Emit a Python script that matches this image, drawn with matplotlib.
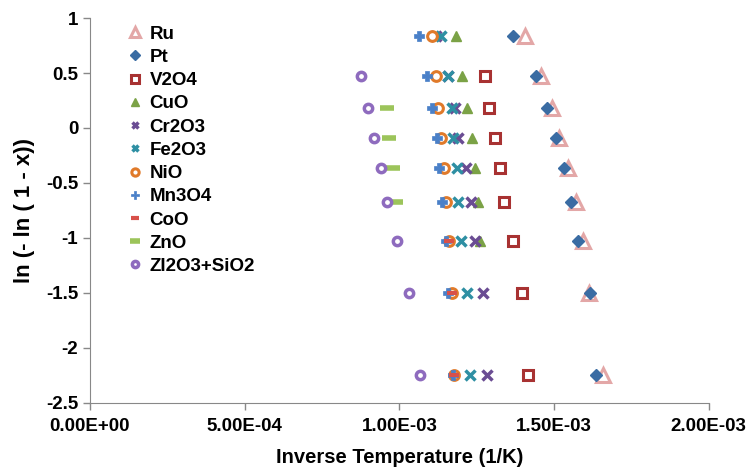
import numpy as np
import matplotlib
matplotlib.use('Agg')
import matplotlib.pyplot as plt

plt.rcParams['font.family'] = ['Liberation Sans', 'DejaVu Sans']
plt.rcParams['font.weight'] = 'bold'

nan = np.nan

# ln(-ln(1-x)) for x = 0.9 ... 0.1
yvals = [0.834, 0.476, 0.186, -0.087, -0.367, -0.672, -1.031, -1.500, -2.250]

# inverse temperatures, in units of 1e-3 1/K
ru = [1.407, 1.459, 1.492, 1.515, 1.546, 1.572, 1.592, 1.614, 1.659]
pt = [1.366, 1.440, 1.476, 1.505, 1.533, 1.556, 1.578, 1.616, 1.635]
v2o4 = [nan, 1.278, 1.290, 1.309, 1.325, 1.339, 1.368, 1.395, 1.416]
cuo = [1.183, 1.204, 1.220, 1.235, 1.244, 1.253, 1.262, nan, nan]
cr2o3 = [1.117, 1.158, 1.179, 1.190, 1.215, 1.231, 1.244, 1.271, 1.284]
fe2o3 = [1.133, 1.158, 1.169, 1.174, 1.185, 1.188, 1.198, 1.217, 1.228]
nio = [1.106, 1.118, 1.126, 1.136, 1.144, 1.152, 1.161, 1.169, 1.176]
mn3o4 = [1.064, 1.088, 1.104, 1.123, 1.128, 1.139, 1.150, 1.158, 1.172]
coo = [nan, nan, nan, nan, nan, nan, 1.161, 1.169, 1.176]
zno = [nan, nan, 0.959, 0.966, 0.980, 0.989, nan, nan, nan]
zl2o3 = [nan, 0.876, 0.897, 0.918, 0.939, 0.959, 0.993, 1.032, 1.068]

series = [
    ('Ru', ru, dict(marker='^', ms=9.5, mfc='white', mec='#E3A7A7', mew=2.2)),
    ('Pt', pt, dict(marker='D', ms=6.5, mfc='#3A6CA3', mec='#3A6CA3', mew=1)),
    ('V2O4', v2o4, dict(marker='s', ms=7.5, mfc='white', mec='#A83232', mew=2.2)),
    ('CuO', cuo, dict(marker='^', ms=7, mfc='#7BA246', mec='#7BA246', mew=1)),
    ('Cr2O3', cr2o3, dict(marker='x', ms=6.5, mec='#6A4C93', mew=2.5)),
    ('Fe2O3', fe2o3, dict(marker='x', ms=6.5, mec='#2E8FA3', mew=2.5)),
    ('NiO', nio, dict(marker='o', ms=7, mfc='white', mec='#E07A2A', mew=2.2)),
    ('Mn3O4', mn3o4, dict(marker='P', ms=7.5, mfc='#4A80C8', mec='#4A80C8', mew=0.5)),
    ('CoO', coo, dict(marker='_', ms=7, mec='#D8504A', mew=3)),
    ('ZnO', zno, dict(marker='_', ms=10, mec='#9CC45A', mew=4)),
    ('ZI2O3+SiO2', zl2o3, dict(marker='o', ms=6, mfc='white', mec='#8E6BBE', mew=2.5)),
]

fig = plt.figure(figsize=(7.5, 4.75), dpi=100)
ax = fig.add_axes([0.12, 0.152, 0.825, 0.81])

for name, xs, style in series:
    ax.plot(np.array(xs) * 1e-3, yvals, linestyle='none', label=name, **style)

ax.set_xlim(0, 2e-3)
ax.set_ylim(-2.5, 1)
ax.set_xticks([0, 5e-4, 1e-3, 1.5e-3, 2e-3])
ax.set_xticklabels(['0.00E+00', '5.00E-04', '1.00E-03', '1.50E-03', '2.00E-03'])
ax.set_yticks([1, 0.5, 0, -0.5, -1, -1.5, -2, -2.5])
ax.set_yticklabels(['1', '0.5', '0', '-0.5', '-1', '-1.5', '-2', '-2.5'])
ax.tick_params(labelsize=13.5, direction='out', length=5, color='#888888', width=1)
ax.tick_params(axis='x', pad=6)
ax.spines['top'].set_visible(False)
ax.spines['right'].set_visible(False)
ax.spines['left'].set_color('#888888')
ax.spines['bottom'].set_color('#888888')

ax.set_xlabel('Inverse Temperature (1/K)', fontsize=14.5, fontweight='bold', labelpad=9)
ax.set_ylabel('ln (- ln ( 1 - x))', fontsize=16, fontweight='bold', labelpad=8)

ax.legend(loc='upper left', bbox_to_anchor=(0.0295, 1.024), frameon=False,
          handletextpad=0.3, labelspacing=0.325, handlelength=1.0, markerscale=0.75,
          prop={'weight': 'bold', 'size': 13.5})

fig.savefig('out.png', dpi=100)
